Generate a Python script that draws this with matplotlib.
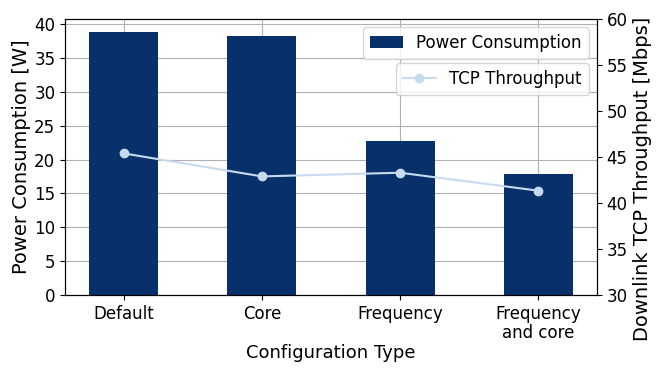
import matplotlib.pyplot as plt

configs = ['Default', 'Core', 'Frequency', 'Frequency\nand core']
power = [38.8, 38.2, 22.8, 17.9]
throughput = [45.4, 42.9, 43.3, 41.35]

fig, ax = plt.subplots(figsize=(6.64, 3.74), dpi=100)
fig.subplots_adjust(left=0.098, right=0.899, top=0.949, bottom=0.211)

x = range(len(configs))
ax.bar(x, power, width=0.5, color='#08306b', label='Power Consumption', zorder=2)
ax.set_xticks(list(x))
ax.set_xticklabels(configs, fontsize=12, linespacing=1.1)
ax.set_yticks(range(0, 41, 5))
ax.tick_params(axis='y', labelsize=12)
ax.set_xlabel('Configuration Type', fontsize=13, labelpad=1)
ax.set_ylabel('Power Consumption [W]', fontsize=14, labelpad=2)
ax.grid(True, color='#b0b0b0', zorder=0)
ax.set_axisbelow(True)
ax.legend(loc='upper right', fontsize=12)

ax2 = ax.twinx()
ax2.plot(x, throughput, marker='o', color='#c6dbef', label='TCP Throughput')
ax2.set_ylim(30, 60)
ax2.tick_params(axis='y', labelsize=12)
ax2.set_ylabel('Downlink TCP Throughput [Mbps]', fontsize=14)
ax2.yaxis.label.set_y(0.42)  # shifted down a bit so it fits
ax2.legend(loc='upper right', bbox_to_anchor=(1, 0.87), fontsize=12)

plt.savefig('out.png')
